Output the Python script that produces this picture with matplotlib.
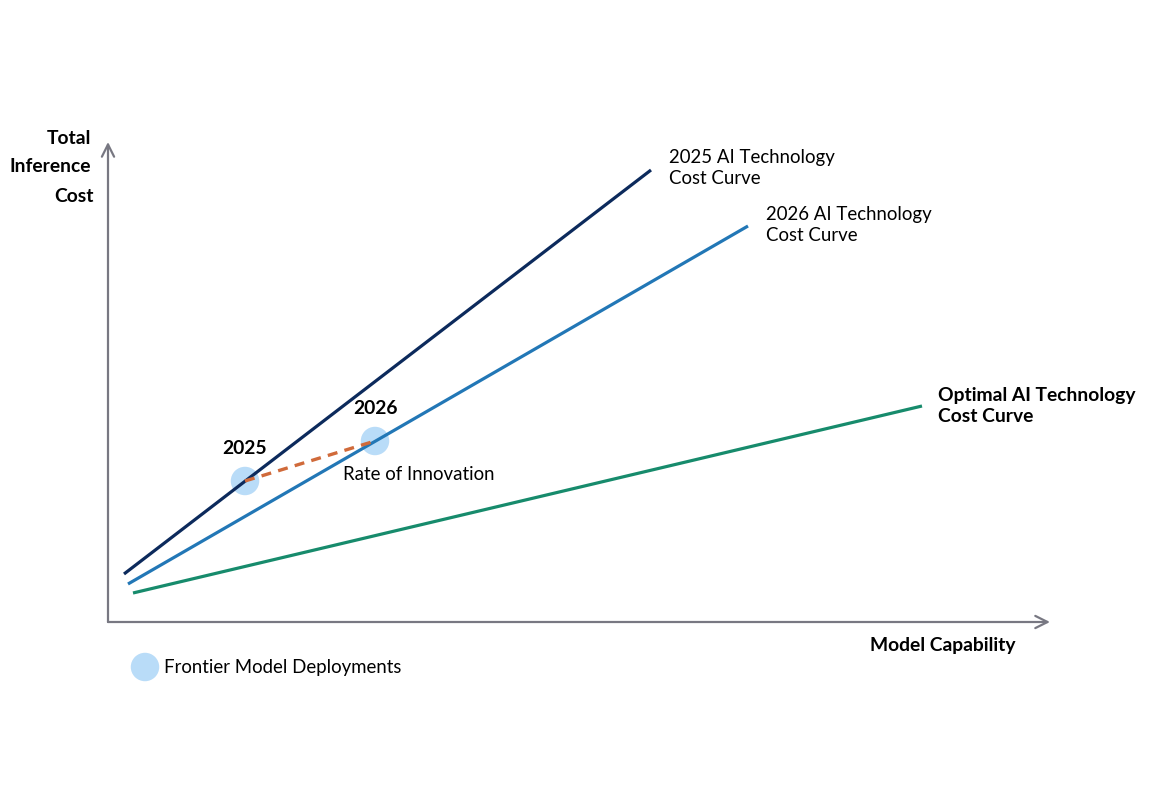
import matplotlib.pyplot as plt

plt.rcParams['font.family'] = ['Lato', 'DejaVu Sans']

# curve end points (arbitrary capability / cost units)
curve_names = ["2025 AI Technology\nCost Curve", "2026 AI Technology\nCost Curve",
               "Optimal AI Technology\nCost Curve"]
curve_x = [[16, 543], [20, 640], [25, 814]]
curve_y = [[48, 452], [38, 396], [29, 216]]
curve_colors = ["#0c2a5c", "#2277b6", "#178b6c"]

# frontier model deployments
deploy_years = ["2025", "2026"]
deploy_x = [137, 267]
deploy_y = [141, 181]

fig = plt.figure(figsize=(11.49, 8), dpi=100)
ax = fig.add_axes([0, 0, 1, 1])
ax.set_xlim(-108, 1041)
ax.set_ylim(-178, 622)
ax.axis('off')

axis_col = "#787882"
ax.annotate("", xy=(942, 0), xytext=(0, 0),
            arrowprops=dict(arrowstyle="->", color=axis_col, lw=1.6,
                            mutation_scale=22, shrinkA=0, shrinkB=0))
ax.annotate("", xy=(0, 480), xytext=(0, 0),
            arrowprops=dict(arrowstyle="->", color=axis_col, lw=1.6,
                            mutation_scale=22, shrinkA=0, shrinkB=0))

for xs, ys, c in zip(curve_x, curve_y, curve_colors):
    ax.plot(xs, ys, color=c, lw=2.3, solid_capstyle='butt')

ax.scatter(deploy_x, deploy_y, s=420, color="#b9dcf8", zorder=1, edgecolors='none')
ax.plot(deploy_x, deploy_y, color="#d06a3a", lw=2.4, ls=(0, (3, 2.2)), zorder=3)

fs = 13.4
fb = 13.9
ax.text(-17, 484, "Total", ha='right', va='center', fontsize=fb, fontweight='bold')
ax.text(-17, 455, "Inference", ha='right', va='center', fontsize=fb, fontweight='bold')
ax.text(-14, 425, "Cost", ha='right', va='center', fontsize=fb, fontweight='bold')

ax.text(561, 454, curve_names[0], ha='left', va='center', fontsize=fs, linespacing=1.35)
ax.text(658, 397, curve_names[1], ha='left', va='center', fontsize=fs, linespacing=1.35)
ax.text(830, 216, curve_names[2], ha='left', va='center', fontsize=fb,
        fontweight='bold', linespacing=1.3)

for yr, x, y in zip(deploy_years, deploy_x, deploy_y):
    ax.text(x, y + 32, yr, ha='center', va='center', fontsize=fb, fontweight='bold')
ax.text(235, 148, "Rate of Innovation", ha='left', va='center', fontsize=fs)

ax.text(907, -23, "Model Capability", ha='right', va='center', fontsize=fb, fontweight='bold')

ax.scatter([37], [-45], s=420, color="#b9dcf8", edgecolors='none')
ax.text(56, -45, "Frontier Model Deployments", ha='left', va='center', fontsize=fs)

fig.savefig("out.png", dpi=100)
